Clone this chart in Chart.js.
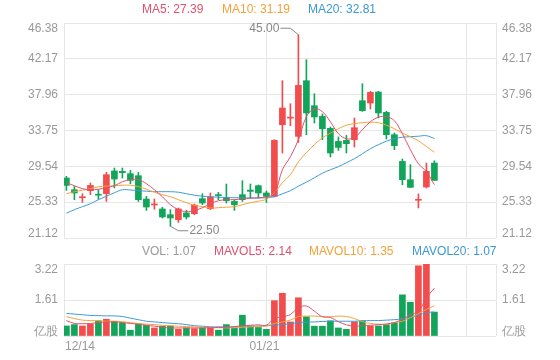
<!DOCTYPE html>
<html>
<head>
<meta charset="utf-8">
<script src="https://cdn.jsdelivr.net/npm/chart.js@4.4.1/dist/chart.umd.min.js"></script>
<style>
  html, body { margin: 0; padding: 0; background: #fff; }
  #wrap { position: relative; width: 560px; height: 360px; overflow: hidden;
          font-family: "Liberation Sans", Arial, sans-serif; font-size: 12px; }
  #kline { position: absolute; left: 0; top: 0; }
  #vol { position: absolute; left: 0; top: 242px; }
  .lg { position: absolute; white-space: nowrap; line-height: 14px; }
</style>
</head>
<body>
<div id="wrap">
  <canvas id="kline" width="560" height="242"></canvas>
  <canvas id="vol" width="560" height="118"></canvas>
  <div class="lg" style="left:142px;top:2px;color:#e2506c">MA5: 27.39</div>
  <div class="lg" style="left:222px;top:2px;color:#f5a13a">MA10: 31.19</div>
  <div class="lg" style="left:308px;top:2px;color:#3b98d7">MA20: 32.81</div>
  <div class="lg" style="left:142px;top:244px;color:#999">VOL: 1.07</div>
  <div class="lg" style="left:214px;top:244px;color:#e2506c">MAVOL5: 2.14</div>
  <div class="lg" style="left:309px;top:244px;color:#f5a13a">MAVOL10: 1.35</div>
  <div class="lg" style="left:412px;top:244px;color:#3b98d7">MAVOL20: 1.07</div>
</div>
<script>
// axis ticks
const priceTicks = [21.12, 25.33, 29.54, 33.75, 37.96, 42.17, 46.38];
const volTicks = [0, 1.61, 3.22];
const volTickLabels = ['亿股', '1.61', '3.22'];
const dateTicks = ['12/14', '01/21'];
const dateTickIndex = [0, 25];

// daily candles
const open  = [28.17, 26.79, 25.85, 26.68, 26.25, 26.33, 29.00, 28.95, 28.68, 28.44,
               25.70, 25.00, 24.53, 23.86, 23.27, 24.06, 23.97, 25.74, 24.56, 26.20,
               25.82, 25.42, 26.21, 26.75, 27.27, 26.41, 26.01, 34.43, 35.20, 33.06,
               39.60, 36.66, 35.41, 34.00, 32.47, 32.59, 32.67, 37.25, 36.98, 38.27,
               35.88, 33.26, 30.12, 27.97, 25.55, 27.11, 29.93];
const close = [27.30, 26.41, 25.93, 27.30, 26.15, 28.56, 28.05, 28.80, 27.89, 25.62,
               24.76, 25.10, 23.59, 23.47, 24.53, 23.59, 24.99, 25.23, 25.94, 26.10,
               25.50, 25.03, 25.62, 26.60, 26.41, 26.01, 32.59, 36.39, 35.30, 39.05,
               35.81, 35.34, 33.96, 31.11, 31.76, 32.20, 34.08, 36.08, 38.23, 35.81,
               33.26, 31.97, 27.97, 27.07, 25.65, 28.95, 27.89];
const high  = [28.36, 27.18, 26.32, 27.58, 26.79, 28.83, 29.34, 29.34, 29.06, 28.83,
               26.01, 25.70, 24.72, 24.45, 24.64, 24.36, 25.11, 26.32, 26.41, 26.48,
               27.46, 25.62, 27.85, 27.46, 27.35, 26.64, 32.67, 39.60, 36.90, 45.00,
               42.07, 38.07, 35.69, 34.16, 32.99, 33.17, 35.22, 39.25, 38.35, 38.35,
               36.00, 33.46, 30.40, 29.73, 26.30, 29.93, 30.20];
const low   = [26.71, 25.62, 25.30, 26.21, 25.70, 25.42, 27.00, 28.17, 27.50, 25.42,
               24.36, 24.50, 23.47, 22.50, 22.95, 23.35, 23.86, 25.03, 24.45, 25.62,
               25.23, 24.36, 25.42, 25.82, 25.82, 25.30, 25.95, 31.10, 34.30, 32.35,
               33.26, 34.63, 32.67, 30.64, 31.41, 31.11, 31.81, 35.99, 36.28, 35.22,
               32.75, 31.49, 27.38, 27.07, 24.65, 26.99, 27.89];

// moving averages as shown
const ma5  = [27.62, 27.26, 26.91, 26.79, 26.85, 27.03, 27.26, 27.73, 27.97, 27.97,
              27.50, 26.79, 25.97, 25.03, 24.45, 24.21, 24.33, 24.68, 25.15, 25.50,
              25.62, 25.62, 25.74, 25.80, 25.85, 25.97, 26.32, 29.14, 30.67, 32.67,
              35.37, 36.31, 35.96, 34.78, 33.37, 32.78, 32.90, 33.84, 34.78, 35.31,
              35.37, 34.90, 33.37, 31.49, 29.85, 28.91, 27.39];
const ma10 = [26.32, 26.56, 26.74, 26.91, 27.15, 27.21, 27.26, 27.32, 27.32, 27.15,
              26.85, 26.50, 26.21, 25.97, 25.62, 25.27, 24.97, 24.80, 24.64, 24.68,
              24.74, 24.80, 25.03, 25.27, 25.44, 25.68, 26.44, 27.62, 28.56, 30.08,
              31.14, 32.08, 32.90, 33.43, 33.96, 34.37, 34.55, 34.67, 34.73, 34.67,
              34.37, 33.96, 33.43, 33.02, 32.55, 31.88, 31.19];
const ma20 = [24.03, 24.45, 24.80, 25.15, 25.62, 26.03, 26.44, 26.79, 26.76, 26.68,
              26.62, 26.56, 26.56, 26.56, 26.50, 26.32, 26.15, 26.03, 25.97, 25.91,
              25.88, 25.85, 25.83, 25.82, 25.82, 25.85, 25.97, 26.32, 26.68, 27.21,
              27.68, 28.20, 28.73, 29.14, 29.50, 29.97, 30.44, 31.02, 31.61, 32.08,
              32.49, 32.79, 32.96, 33.02, 33.08, 33.14, 32.81];

// volume (亿股)
const volume  = [0.45, 0.51, 0.45, 0.53, 0.68, 0.75, 0.66, 0.59, 0.26, 0.53,
                 0.48, 0.36, 0.44, 0.45, 0.30, 0.36, 0.33, 0.36, 0.36, 0.26,
                 0.51, 0.36, 0.93, 0.45, 0.38, 0.30, 1.58, 1.91, 0.63, 1.71,
                 0.86, 0.44, 0.44, 0.68, 0.36, 0.30, 0.63, 0.68, 0.45, 0.45,
                 0.51, 0.59, 1.84, 1.51, 3.14, 3.22, 1.07];
const mavol5  = [0.69, 0.56, 0.55, 0.56, 0.60, 0.62, 0.63, 0.60, 0.56, 0.53,
                 0.48, 0.44, 0.39, 0.36, 0.36, 0.36, 0.36, 0.36, 0.37, 0.38,
                 0.39, 0.42, 0.46, 0.48, 0.50, 0.48, 0.78, 0.86, 0.96, 1.27,
                 1.34, 1.11, 0.86, 0.83, 0.64, 0.50, 0.44, 0.46, 0.48, 0.51,
                 0.54, 0.60, 0.75, 0.96, 1.10, 1.70, 2.14];
const mavol10 = [0.87, 0.78, 0.71, 0.69, 0.68, 0.66, 0.66, 0.64, 0.60, 0.56,
                 0.53, 0.51, 0.48, 0.46, 0.44, 0.42, 0.41, 0.39, 0.38, 0.37,
                 0.36, 0.37, 0.39, 0.41, 0.43, 0.45, 0.56, 0.63, 0.71, 0.87,
                 0.89, 0.89, 0.87, 0.86, 0.89, 0.87, 0.78, 0.64, 0.56, 0.53,
                 0.51, 0.60, 0.66, 0.82, 1.00, 1.19, 1.35];
const mavol20 = [1.01, 0.98, 0.95, 0.92, 0.91, 0.90, 0.90, 0.87, 0.80, 0.73,
                 0.66, 0.63, 0.60, 0.57, 0.55, 0.51, 0.46, 0.44, 0.41, 0.41,
                 0.41, 0.41, 0.42, 0.43, 0.44, 0.46, 0.48, 0.51, 0.55, 0.60,
                 0.62, 0.63, 0.65, 0.66, 0.66, 0.66, 0.66, 0.68, 0.69, 0.69,
                 0.71, 0.73, 0.77, 0.84, 0.93, 1.05, 1.07];

const UP = '#f24c4c', DOWN = '#12a55a';
const C5 = '#e2506c', C10 = '#f5a13a', C20 = '#3b98d7';
const GRID = '#e6e6e6', TXT = '#999';
const FONT = '12px "Liberation Sans", Arial, sans-serif';
const XMIN = -0.3, XMAX = 53.7;

const idx = open.map((_, i) => i);
const colors = idx.map(i => close[i] >= open[i] ? UP : DOWN);
const pts = arr => idx.map(i => ({ x: i, y: arr[i] }));
const maLine = (label, arr, color) => ({
  type: 'line', label, data: pts(arr), borderColor: color, borderWidth: 1,
  pointRadius: 0, tension: 0.35, order: 0
});

const xScale = {
  type: 'linear', min: XMIN, max: XMAX, offset: false,
  afterBuildTicks: s => { s.ticks = [XMIN, 25, 50, XMAX].map(v => ({ value: v })); },
  ticks: { display: false },
  grid: { color: GRID, drawTicks: false, offset: false },
  border: { display: false }
};

// y labels on both sides; first/last pulled inside the grid like the original
function sideLabels(ticks, labels, extra) {
  return {
    id: 'sideLabels',
    afterDraw(chart) {
      const { ctx, chartArea: a, scales: { y } } = chart;
      ctx.save();
      ctx.font = FONT;
      ctx.fillStyle = TXT;
      ticks.forEach((v, k) => {
        let py = y.getPixelForValue(v);
        if (k === 0) { ctx.textBaseline = 'bottom'; py += 2; }
        else if (k === ticks.length - 1) { ctx.textBaseline = 'top'; }
        else ctx.textBaseline = 'middle';
        const t = labels ? labels[k] : v.toFixed(2);
        ctx.textAlign = 'right';
        ctx.fillText(t, a.left - 6, py);
        ctx.textAlign = 'left';
        ctx.fillText(t, a.right + 6, py);
      });
      if (extra) extra(chart);
      ctx.restore();
    }
  };
}

// max / min markers with leader lines
function markHighLow(chart) {
  const { ctx, scales: { x, y } } = chart;
  const hi = high.indexOf(Math.max(...high));
  const lo = low.indexOf(Math.min(...low));
  ctx.strokeStyle = '#888';
  ctx.lineWidth = 1;
  ctx.fillStyle = '#888';
  let px = x.getPixelForValue(hi), py = y.getPixelForValue(high[hi]);
  ctx.beginPath();
  ctx.moveTo(px, py); ctx.lineTo(px - 8, py - 6.5); ctx.lineTo(px - 18, py - 6.5);
  ctx.stroke();
  ctx.textAlign = 'right'; ctx.textBaseline = 'middle';
  ctx.fillText(high[hi].toFixed(2), px - 19, py - 6.5);
  px = x.getPixelForValue(lo); py = y.getPixelForValue(low[lo]);
  ctx.beginPath();
  ctx.moveTo(px, py); ctx.lineTo(px + 8, py + 4.5); ctx.lineTo(px + 18, py + 4.5);
  ctx.stroke();
  ctx.textAlign = 'left';
  ctx.fillText(low[lo].toFixed(2), px + 19, py + 4.5);
}

function dateLabels(chart) {
  const { ctx, chartArea: a, scales: { x } } = chart;
  ctx.textBaseline = 'middle';
  dateTicks.forEach((t, k) => {
    const i = dateTickIndex[k];
    if (i === 0) { ctx.textAlign = 'left'; ctx.fillText(t, a.left + 1, a.bottom + 11); }
    else { ctx.textAlign = 'center'; ctx.fillText(t, x.getPixelForValue(i) - 2, a.bottom + 11); }
  });
}

new Chart(document.getElementById('kline'), {
  type: 'bar',
  data: {
    datasets: [
      maLine('MA5', ma5, C5),
      maLine('MA10', ma10, C10),
      maLine('MA20', ma20, C20),
      { label: 'body', data: idx.map(i => ({ x: i, y: [open[i], close[i]] })),
        backgroundColor: colors, barThickness: 6, minBarLength: 1, grouped: false, order: 1 },
      { label: 'wick', data: idx.map(i => ({ x: i, y: [low[i], high[i]] })),
        backgroundColor: colors, barThickness: 1, grouped: false, order: 2 }
    ]
  },
  options: {
    responsive: false, animation: false,
    layout: { padding: { left: 64, right: 64, top: 23, bottom: 4 } },
    plugins: { legend: { display: false }, tooltip: { enabled: false } },
    scales: {
      x: xScale,
      y: {
        min: priceTicks[0], max: priceTicks[priceTicks.length - 1],
        afterBuildTicks: s => { s.ticks = priceTicks.map(v => ({ value: v })); },
        ticks: { display: false },
        grid: { color: GRID, drawTicks: false },
        border: { display: false }
      }
    }
  },
  plugins: [sideLabels(priceTicks, null, markHighLow)]
});

new Chart(document.getElementById('vol'), {
  type: 'bar',
  data: {
    datasets: [
      maLine('MAVOL5', mavol5, C5),
      maLine('MAVOL10', mavol10, C10),
      maLine('MAVOL20', mavol20, C20),
      { label: 'VOL', data: pts(volume), backgroundColor: colors,
        barThickness: 6, grouped: false, order: 1 }
    ]
  },
  options: {
    responsive: false, animation: false,
    layout: { padding: { left: 64, right: 64, top: 22, bottom: 24 } },
    plugins: { legend: { display: false }, tooltip: { enabled: false } },
    scales: {
      x: { ...xScale },
      y: {
        min: 0, max: volTicks[volTicks.length - 1],
        afterBuildTicks: s => { s.ticks = volTicks.map(v => ({ value: v })); },
        ticks: { display: false },
        grid: { color: GRID, drawTicks: false },
        border: { display: false }
      }
    }
  },
  plugins: [sideLabels(volTicks, volTickLabels, dateLabels)]
});
</script>
</body>
</html>
